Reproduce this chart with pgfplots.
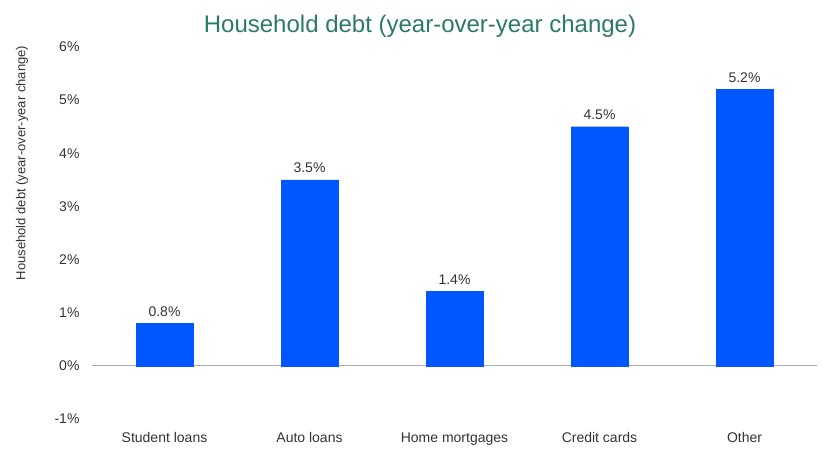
\documentclass[border=0pt]{standalone}
\usepackage{fontspec}
\setmainfont{Liberation Sans}
\usepackage{pgfplots}
\pgfplotsset{compat=1.18}
\definecolor{barblue}{HTML}{0057FF}
\definecolor{titleteal}{HTML}{2B7A67}
\definecolor{axisgray}{HTML}{A8A8A8}
\definecolor{txt}{HTML}{333333}
\begin{document}
\begin{tikzpicture}[x=1pt,y=1pt]
\begin{axis}[
    at={(92pt,53pt)}, anchor=south west,
    scale only axis, width=725pt, height=372pt,
    xmin=-0.5, xmax=4.5, ymin=-1, ymax=6,
    axis line style={draw=none},
    major tick length=0pt,
    xtick={0,1,2,3,4},
    xticklabels={Student loans,Auto loans,Home mortgages,Credit cards,Other},
    ytick={-1,0,1,2,3,4,5,6},
    yticklabels={-1\%,0\%,1\%,2\%,3\%,4\%,5\%,6\%},
    extra y ticks={0}, extra y tick labels={},
    extra y tick style={grid=major, grid style={axisgray, line width=1.2pt}},
    ticklabel style={font=\fontsize{14}{16}\selectfont, text=txt},
    yticklabel style={xshift=-9pt},
    xticklabel style={yshift=-10pt},
    /pgf/number format/assume math mode=true,
    ybar, bar width=57pt,
    nodes near coords={\pgfmathprintnumber[fixed,fixed zerofill,precision=1]{\pgfplotspointmeta}\%},
    every node near coord/.append style={font=\fontsize{14}{16}\selectfont, text=txt, inner sep=2pt, yshift=5pt},
    clip=false,
]
\addplot[fill=barblue, draw=barblue, line width=0.4pt] coordinates {
    (0,0.8) (1,3.5) (2,1.4) (3,4.5) (4,5.2)
};
\end{axis}
\node[text=titleteal, font=\fontsize{24}{28}\selectfont, anchor=base] at (420pt,439pt) {Household debt (year-over-year change)};
\node[text=txt, font=\fontsize{13}{15}\selectfont, rotate=90] at (22pt,309pt) {Household debt (year-over-year change)};
\pgfresetboundingbox
\useasboundingbox (0,0) rectangle (840pt,472pt);
\end{tikzpicture}
\end{document}
